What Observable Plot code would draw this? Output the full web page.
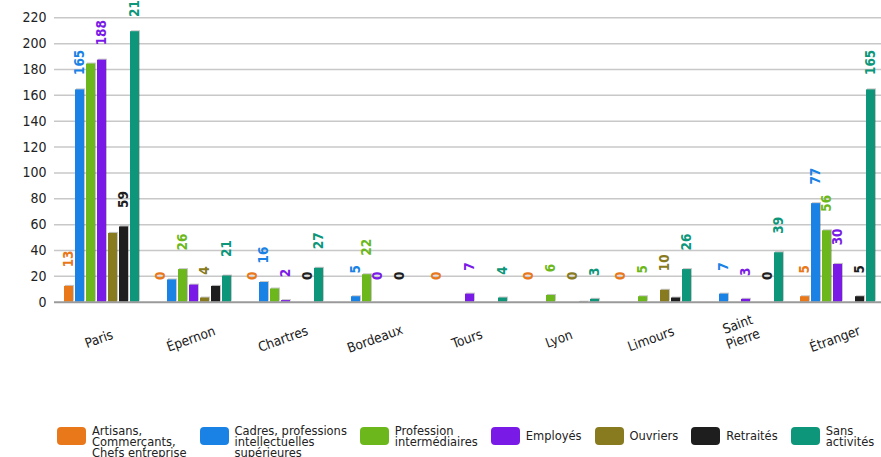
<!DOCTYPE html>
<html>
<head>
<meta charset="utf-8">
<script src="https://cdn.jsdelivr.net/npm/d3@7"></script>
<script src="https://cdn.jsdelivr.net/npm/@observablehq/plot@0.6"></script>
<style>
  html, body { margin: 0; background: #fff; font-family: "DejaVu Sans Condensed", "DejaVu Sans", sans-serif; }
  body { min-height: 480px; }
  #chart svg { display: block; overflow: hidden; }
  g[aria-label="bar"] rect { filter: drop-shadow(1.5px -1px 0.6px rgba(0,0,0,0.22)); }
  .legend { display: flex; align-items: flex-start; padding-left: 57px; padding-top: 25px; gap: 13px; height: 40px; }
  .item { display: flex; align-items: center; height: 21px; }
  .sw { width: 29px; height: 18px; border-radius: 4px; margin-right: 6px; flex: none; }
  .txt { font-size: 12.75px; line-height: 11px; color: #222; white-space: nowrap; }
  .txt.three { margin-bottom: -11px; }
</style>
</head>
<body>
<div id="chart"></div>
<script>
// ---- data ----
const cities = ["Paris", "Épernon", "Chartres", "Bordeaux", "Tours", "Lyon", "Limours", "Saint Pierre", "Étranger"];
const cityTickLabels = ["Paris", "Épernon", "Chartres", "Bordeaux", "Tours", "Lyon", "Limours", "Saint\nPierre", "Étranger"];

const seriesNames = [
  "Artisans, Commerçants, Chefs entreprise",
  "Cadres, professions intellectuelles supérieures",
  "Profession intermédiaires",
  "Employés",
  "Ouvriers",
  "Retraités",
  "Sans activités"
];
const legendLines = [
  ["Artisans,", "Commerçants,", "Chefs entreprise"],
  ["Cadres, professions", "intellectuelles", "supérieures"],
  ["Profession", "intermédiaires"],
  ["Employés"],
  ["Ouvriers"],
  ["Retraités"],
  ["Sans", "activités"]
];
const seriesColors = ["#e8781a", "#1a82e4", "#6cb81c", "#7a1ae6", "#887a1e", "#1e1e1e", "#0e967a"];

// values per series, in city order
const artisans       = [13,   0,  0,  0, 0, 0,  0,  0,   5];
const cadres         = [165, 18, 16,  5, 0, 0,  0,  7,  77];
const intermediaires = [185, 26, 11, 22, 0, 6,  5,  0,  56];
const employes       = [188, 14,  2,  0, 7, 0,  0,  3,  30];
const ouvriers       = [54,   4,  0,  0, 0, 0, 10,  0,   0];
const retraites      = [59,  13,  0,  0, 0, 1,  4,  0,   5];
const sansActivites  = [210, 21, 27,  0, 4, 3, 26, 39, 165];

// which value labels are displayed (1 = shown)
const artisansShown       = [1, 1, 1, 0, 1, 1, 1, 0, 1];
const cadresShown         = [1, 0, 1, 1, 0, 0, 0, 1, 1];
const intermediairesShown = [0, 1, 0, 1, 0, 1, 1, 0, 1];
const employesShown       = [1, 0, 1, 1, 1, 0, 0, 1, 1];
const ouvriersShown       = [0, 1, 0, 0, 0, 1, 1, 0, 0];
const retraitesShown      = [1, 0, 1, 1, 0, 0, 0, 1, 1];
const sansActivitesShown  = [1, 1, 1, 0, 1, 1, 1, 1, 1];

const yTicks = [0, 20, 40, 60, 80, 100, 120, 140, 160, 180, 200, 220];

// ---- build table ----
const seriesValues = [artisans, cadres, intermediaires, employes, ouvriers, retraites, sansActivites];
const seriesShown = [artisansShown, cadresShown, intermediairesShown, employesShown, ouvriersShown, retraitesShown, sansActivitesShown];
const rows = cities.flatMap((city, i) =>
  seriesNames.map((series, j) => ({city, series, value: seriesValues[j][i], shown: seriesShown[j][i] === 1}))
);

const chart = Plot.plot({
  width: 881,
  height: 400,
  marginLeft: 53,
  marginRight: -2,
  marginTop: 17.3,
  marginBottom: 98.3,
  style: {fontFamily: '"DejaVu Sans Condensed", "DejaVu Sans", sans-serif', fontSize: "14px", color: "#222", background: "#fff"},
  fx: {domain: cities, paddingInner: 0, paddingOuter: 0, axis: null, label: null},
  x: {domain: seriesNames, paddingInner: 0.2, paddingOuter: 0.774, align: 0.566, axis: null},
  y: {domain: [0, 220], ticks: yTicks, tickSize: 0, tickPadding: 8, label: null, tickFormat: d => String(d)},
  color: {domain: seriesNames, range: seriesColors},
  marks: [
    Plot.ruleY(yTicks.filter(t => t > 0), {stroke: "#c8c8c8", strokeWidth: 1.5}),
    Plot.barY(rows.filter(d => d.value > 0), {fx: "city", x: "series", y: "value", fill: "series", insetTop: 1}),
    Plot.ruleY([0], {stroke: "#9a9a9a", strokeWidth: 2}),
    Plot.text(rows.filter(d => d.shown), {
      fx: "city", x: "series", y: "value", text: d => String(d.value), fill: "series",
      rotate: -90, textAnchor: "middle", dy: -26.5, fontWeight: "bold", fontSize: 13.5
    }),
    Plot.text(cities, {
      fx: d => d, text: (d, i) => cityTickLabels[i], frameAnchor: "bottom", dy: 41,
      rotate: -20, fontSize: 13.5, fill: "#1a1a1a", lineHeight: 1.15
    })
  ]
});
document.getElementById("chart").appendChild(chart);

// ---- legend ----
const legend = document.createElement("div");
legend.className = "legend";
seriesNames.forEach((name, j) => {
  const item = document.createElement("div");
  item.className = "item";
  const sw = document.createElement("div");
  sw.className = "sw";
  sw.style.background = seriesColors[j];
  const txt = document.createElement("div");
  txt.className = "txt" + (legendLines[j].length > 2 ? " three" : "");
  txt.innerHTML = legendLines[j].join("<br>");
  item.appendChild(sw);
  item.appendChild(txt);
  legend.appendChild(item);
});
document.body.appendChild(legend);
</script>
</body>
</html>
